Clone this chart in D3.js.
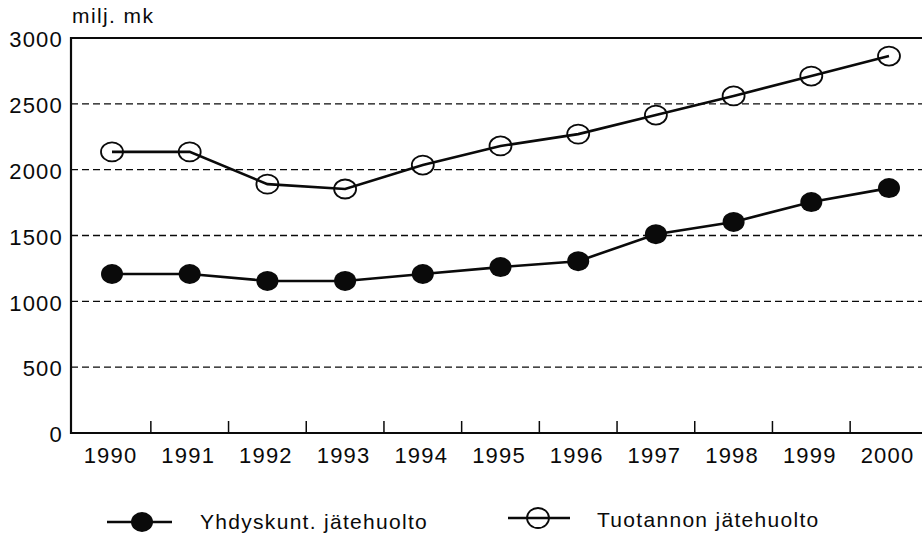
<!DOCTYPE html>
<html>
<head>
<meta charset="utf-8">
<script src="https://cdn.jsdelivr.net/npm/d3@7"></script>
<style>
  html, body { margin: 0; padding: 0; background: #fff; }
  #chart { width: 922px; height: 536px; }
</style>
</head>
<body>
<div id="chart"></div>
<script>
const years = [1990, 1991, 1992, 1993, 1994, 1995, 1996, 1997, 1998, 1999, 2000];
const yhdyskunt = [1208, 1208, 1155, 1155, 1208, 1260, 1305, 1510, 1603, 1754, 1860];
const tuotannon = [2135, 2135, 1890, 1853, 2035, 2180, 2270, 2415, 2560, 2711, 2863];
const yTicks = [0, 500, 1000, 1500, 2000, 2500, 3000];
const legendLabels = ["Yhdyskunt. jätehuolto", "Tuotannon jätehuolto"];

const W = 922, H = 536;
const ink = "#0a0a0a";
const font = "'Liberation Sans', Arial, sans-serif";

const svg = d3.select("#chart").append("svg")
  .attr("width", W).attr("height", H)
  .style("font-family", font);

const plotLeft = 71, plotRight = W, plotTop = 38, plotBottom = 433;

const x = d3.scaleLinear().domain([1990, 2000]).range([112, 889]);
const y = d3.scaleLinear().domain([0, 3000]).range([plotBottom, plotTop]);

// dashed gridlines
svg.append("g")
  .selectAll("line")
  .data(yTicks.filter(d => d > 0 && d < 3000))
  .join("line")
  .attr("x1", plotLeft).attr("x2", plotRight)
  .attr("y1", d => y(d)).attr("y2", d => y(d))
  .attr("stroke", ink)
  .attr("stroke-width", 1.4)
  .attr("stroke-dasharray", "7 4");

// y axis
const yAxis = svg.append("g")
  .attr("transform", `translate(${plotLeft},0)`)
  .call(d3.axisLeft(y).tickValues(yTicks).tickFormat(d3.format("d")).tickSize(0).tickPadding(8));
yAxis.select(".domain").remove();
yAxis.selectAll("text")
  .attr("font-size", "22px")
  .attr("letter-spacing", "1.2px")
  .attr("fill", ink)
  .attr("dy", "0.4em");

// x axis, ticks sit between the years
const xAxis = svg.append("g")
  .attr("transform", `translate(0,${plotBottom})`)
  .call(d3.axisBottom(x).tickValues(years).tickFormat(d3.format("d")).tickSize(0).tickPadding(14));
xAxis.select(".domain").remove();
xAxis.selectAll("text")
  .attr("font-size", "22px")
  .attr("letter-spacing", "1.2px")
  .attr("fill", ink)
  .attr("dx", "-2");

svg.append("g")
  .selectAll("line")
  .data(years.slice(0, -1))
  .join("line")
  .attr("x1", d => x(d + 0.5)).attr("x2", d => x(d + 0.5))
  .attr("y1", plotBottom).attr("y2", plotBottom - 12)
  .attr("stroke", ink).attr("stroke-width", 1.5);

// frame
svg.append("path")
  .attr("d", `M${plotRight},${plotTop}H${plotLeft}V${plotBottom}H${plotRight}`)
  .attr("fill", "none")
  .attr("stroke", ink)
  .attr("stroke-width", 2.2);

svg.append("text")
  .attr("x", 72).attr("y", 23)
  .attr("font-size", "21px")
  .attr("letter-spacing", "1.4px")
  .attr("fill", ink)
  .text("milj. mk");

const line = d3.line().x((d, i) => x(years[i])).y(d => y(d));

// open circle series
svg.append("g")
  .selectAll("ellipse")
  .data(tuotannon)
  .join("ellipse")
  .attr("cx", (d, i) => x(years[i])).attr("cy", d => y(d))
  .attr("rx", 11).attr("ry", 9.5)
  .attr("fill", "#fff")
  .attr("stroke", ink).attr("stroke-width", 1.8);

svg.append("path")
  .datum(tuotannon)
  .attr("d", line)
  .attr("fill", "none")
  .attr("stroke", ink)
  .attr("stroke-width", 2.6);

// filled series
svg.append("path")
  .datum(yhdyskunt)
  .attr("d", line)
  .attr("fill", "none")
  .attr("stroke", ink)
  .attr("stroke-width", 2.6);

svg.append("g")
  .selectAll("ellipse")
  .data(yhdyskunt)
  .join("ellipse")
  .attr("cx", (d, i) => x(years[i])).attr("cy", d => y(d))
  .attr("rx", 11).attr("ry", 10)
  .attr("fill", ink);

// legend
const lg1 = svg.append("g");
lg1.append("line").attr("x1", 107).attr("x2", 172).attr("y1", 522).attr("y2", 522)
  .attr("stroke", ink).attr("stroke-width", 2.4);
lg1.append("ellipse").attr("cx", 142).attr("cy", 522).attr("rx", 11).attr("ry", 10).attr("fill", ink);
lg1.append("text").attr("x", 200).attr("y", 529)
  .attr("font-size", "21px").attr("letter-spacing", "1.3px").attr("fill", ink)
  .text(legendLabels[0]);

const lg2 = svg.append("g");
lg2.append("ellipse").attr("cx", 538).attr("cy", 518).attr("rx", 11).attr("ry", 10)
  .attr("fill", "#fff").attr("stroke", ink).attr("stroke-width", 1.8);
lg2.append("line").attr("x1", 508).attr("x2", 570).attr("y1", 518).attr("y2", 518)
  .attr("stroke", ink).attr("stroke-width", 2.4);
lg2.append("text").attr("x", 597).attr("y", 527)
  .attr("font-size", "21px").attr("letter-spacing", "1.3px").attr("fill", ink)
  .text(legendLabels[1]);
</script>
</body>
</html>
